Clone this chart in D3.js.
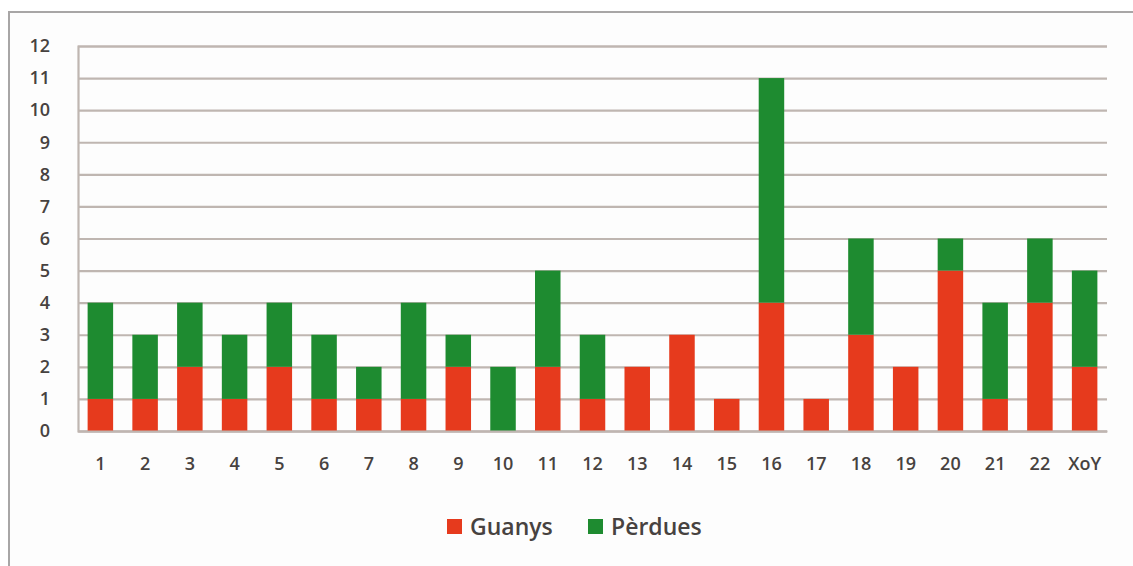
<!DOCTYPE html>
<html>
<head>
<meta charset="utf-8">
<script src="https://cdn.jsdelivr.net/npm/d3@7"></script>
<style>
  html, body { margin: 0; padding: 0; background: #fff; }
  svg { display: block; }
</style>
</head>
<body>
<svg id="chart" width="1133" height="566"></svg>
<script>
// Categories along the x axis
const categories = ["1","2","3","4","5","6","7","8","9","10","11","12","13","14","15","16","17","18","19","20","21","22","XoY"];
// Stacked series: gains at the bottom, losses on top
const guanys  = [1,1,2,1,2,1,1,1,2,0,2,1,2,3,1,4,1,3,2,5,1,4,2];
const perdues = [3,2,2,2,2,2,1,3,1,2,3,2,0,0,0,7,0,3,0,1,3,2,3];
const seriesNames = ["Guanys", "Pèrdues"];
const seriesColors = ["#e63a1d", "#1e8b30"];
const yTicks = [0,1,2,3,4,5,6,7,8,9,10,11,12];

const svg = d3.select("#chart");
const W = 1133, H = 566;
const margin = { left: 78, right: 26, top: 46, bottom: 135 };
const font = "'Open Sans', 'Noto Sans', sans-serif";
const textColor = "#474240";
const gridColor = "#bfb6b1";

// Outer frame
svg.append("rect").attr("x", 0).attr("y", 0).attr("width", W).attr("height", H).attr("fill", "#fff");
svg.append("rect")
  .attr("x", 9).attr("y", 12).attr("width", W + 10).attr("height", H + 10)
  .attr("fill", "#fdfdfd").attr("stroke", "#a8a6a6").attr("stroke-width", 2);

const x = d3.scaleBand()
  .domain(categories)
  .range([margin.left, W - margin.right])
  .paddingInner(0.43).paddingOuter(0.215);

const y = d3.scaleLinear()
  .domain([0, 12])
  .range([H - margin.bottom, margin.top]);

// Horizontal gridlines
const yAxis = d3.axisLeft(y).tickValues(yTicks).tickSize(-(W - margin.right - margin.left)).tickPadding(28).tickFormat(d3.format("d"));
const gy = svg.append("g").attr("transform", `translate(${margin.left},0)`).call(yAxis);
gy.select(".domain").attr("stroke", gridColor).attr("stroke-width", 2.2);
gy.selectAll(".tick line").attr("stroke", gridColor).attr("stroke-width", 2.2);
gy.selectAll(".tick text")
  .attr("fill", textColor).attr("font-family", font).attr("font-size", 18).attr("font-weight", 600);

// Stacked bars
const rows = categories.map((c, i) => ({ cat: c, Guanys: guanys[i], "Pèrdues": perdues[i] }));
const stacked = d3.stack().keys(seriesNames)(rows);

svg.append("g").selectAll("g")
  .data(stacked)
  .join("g")
  .attr("fill", (d, i) => seriesColors[i])
  .selectAll("rect")
  .data(d => d.filter(s => s[1] - s[0] > 0))
  .join("rect")
  .attr("x", d => x(d.data.cat))
  .attr("width", x.bandwidth())
  .attr("y", d => y(d[1]))
  .attr("height", d => y(d[0]) - y(d[1]));

// Category labels
const xAxis = d3.axisBottom(x).tickSize(0).tickPadding(26);
const gx = svg.append("g").attr("transform", `translate(0,${H - margin.bottom})`).call(xAxis);
gx.select(".domain").attr("stroke", gridColor).attr("stroke-width", 2.2);
gx.selectAll(".tick text")
  .attr("fill", textColor).attr("font-family", font).attr("font-size", 18).attr("font-weight", 600);

// Legend
const legend = svg.append("g").attr("transform", "translate(447,527)");
const legendX = [0, 141];
seriesNames.forEach((name, i) => {
  const g = legend.append("g").attr("transform", `translate(${legendX[i]},0)`);
  g.append("rect").attr("x", 0).attr("y", -8).attr("width", 15).attr("height", 15).attr("fill", seriesColors[i]);
  g.append("text").attr("x", 23).attr("y", 0).attr("dy", "0.35em")
    .attr("fill", textColor).attr("font-family", font).attr("font-size", 23).attr("font-weight", 600)
    .text(name);
});
</script>
</body>
</html>
